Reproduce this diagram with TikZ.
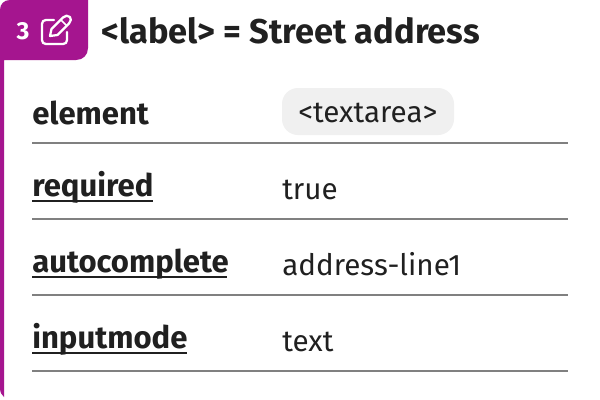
\documentclass[tikz,border=0pt]{standalone}
\usepackage{fontspec}
\setmainfont{Fira Sans}
\definecolor{brand}{HTML}{A5158F}
\definecolor{ink}{HTML}{202020}
\definecolor{rulegray}{HTML}{808080}
\definecolor{chip}{HTML}{F0F0F0}
\tikzset{
  x=0.75pt,y=-0.75pt,
  keylabel/.style={anchor=base west,inner sep=0pt,text=ink,font=\bfseries\fontsize{23.3}{26}\selectfont},
  linkline/.style={draw=ink,line width=1.5pt},
  vallabel/.style={anchor=base west,inner sep=0pt,text=ink,font=\fontsize{22.2}{26}\selectfont},
  rowrule/.style={draw=rulegray,line width=1.1pt},
  iconline/.style={white,line width=1.7pt,line cap=round,line join=round},
}
\begin{document}
\begin{tikzpicture}
\useasboundingbox (0,0) rectangle (600,400);
\fill[white] (0,0) rectangle (600,400);
% accent
\fill[brand] (0,10) .. controls (0,4) and (4,0) .. (10,0) -- (88,0) -- (88,48) .. controls (88,55) and (83,60) .. (76,60) -- (4,60) -- (4,397) .. controls (2,395) and (0,393) .. (0,388) -- cycle;
% number
\node[anchor=base,inner sep=0pt,text=white,font=\bfseries\fontsize{18.5}{20}\selectfont] (num) at (23,39.5) {3};
% edit icon
\draw[iconline] (54,20) -- (46,20) .. controls (43.5,20) and (42,21.5) .. (42,24) -- (42,40) .. controls (42,42.5) and (43.5,44) .. (46,44) -- (63,44) .. controls (65.5,44) and (67,42.5) .. (67,40) -- (67,32);
\draw[iconline] (50,36) -- (51.5,29) -- (63,17.5) .. controls (65,15.5) and (68,15) .. (70,17) .. controls (71.5,19) and (71,21) .. (69,23.5) -- (57.5,35) -- cycle;
\draw[white,line width=1.2pt] (61,20) -- (66.5,25.5);
% heading
\node[keylabel,font=\bfseries\fontsize{25.8}{30}\selectfont] (head) at (101,43) {<label> = Street address};
% chip
\fill[chip,rounded corners=12] (282,88) rectangle (454,135);
\coordinate (r1a) at (32,143); \coordinate (r1b) at (568,143);
\coordinate (r2a) at (32,219); \coordinate (r2b) at (568,219);
\coordinate (r3a) at (32,295); \coordinate (r3b) at (568,295);
\coordinate (r4a) at (32,371); \coordinate (r4b) at (568,371);
\draw[rowrule] (r1a) -- (r1b);
\draw[rowrule] (r2a) -- (r2b);
\draw[rowrule] (r3a) -- (r3b);
\draw[rowrule] (r4a) -- (r4b);
% rows
\node[keylabel] (k1) at (32,124) {element};
\node[keylabel] (k2) at (32,196) {required};
\node[keylabel] (k3) at (32,272) {autocomplete};
\node[keylabel] (k4) at (32,348) {inputmode};
\draw[linkline] (k2.base west)++(0,5) -- ++(121,0);
\draw[linkline] (k3.base west)++(0,5) -- ++(195,0);
\draw[linkline] (k4.base west)++(0,5) -- ++(155,0);
\node[vallabel] (v1) at (298,122) {<textarea>};
\node[vallabel] (v2) at (282,199) {true};
\node[vallabel] (v3) at (282,275) {address-line1};
\node[vallabel] (v4) at (282,351) {text};
\end{tikzpicture}
\end{document}
